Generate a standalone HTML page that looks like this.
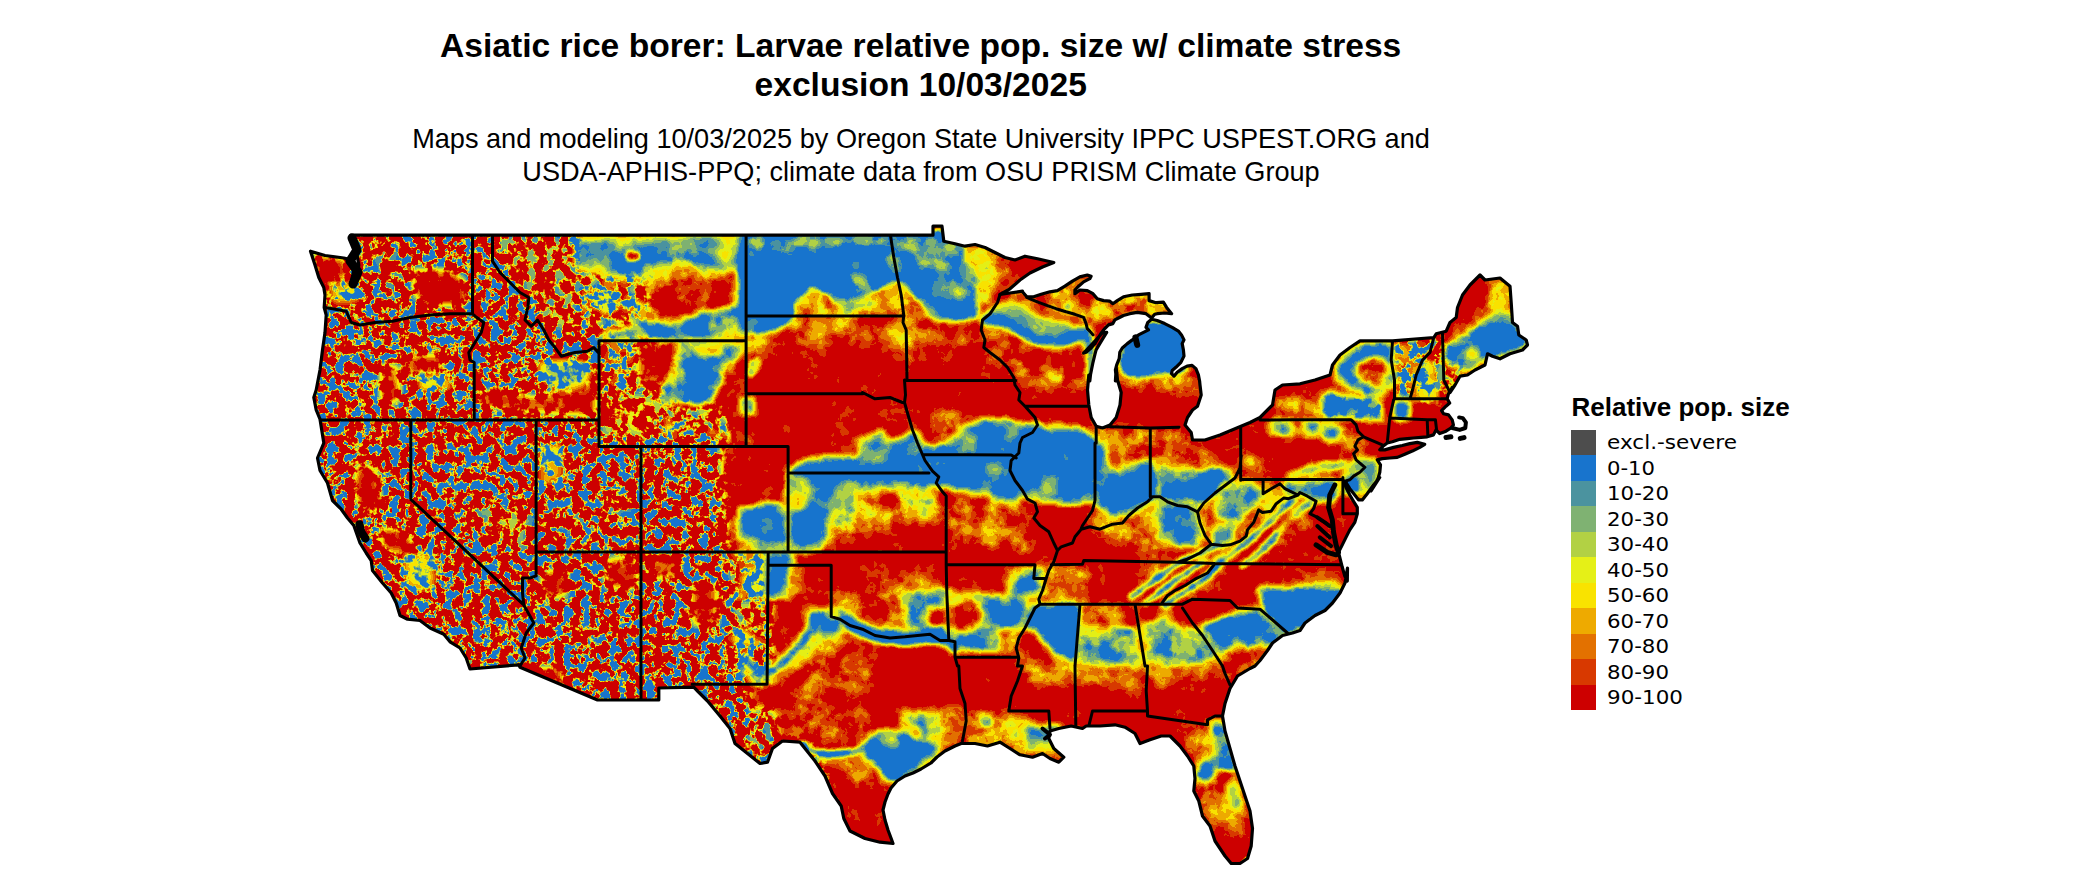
<!DOCTYPE html>
<html><head><meta charset="utf-8"><title>Asiatic rice borer</title>
<style>
html,body{margin:0;padding:0;background:#fff}
svg{display:block}
.t1{font:bold 33.6px "Liberation Sans",sans-serif;text-anchor:middle}
.t2{font:27.13px "Liberation Sans",sans-serif;text-anchor:middle}
.lt{font:bold 26px "Liberation Sans",sans-serif}
.ll{font:20.2px "DejaVu Sans",sans-serif}
</style></head><body>
<svg width="2100" height="892" viewBox="0 0 2100 892">
<defs>
<clipPath id="land"><path d="M350.8 235.2 L933 235.2 L933 226.2 L942 226.2 L943.8 241.2 L955 243.8 L965 246.2 L975 244.5 L985 247.5 L995 252.5 L1005 257.5 L1015 260 L1025 256.2 L1037.5 258.8 L1053.8 262.5 L1042.5 267 L1030 273 L1020 280 L1010 288.8 L1000 294.5 L1010 293 L1022.5 291.2 L1023.1 292.5 L1026.8 296.8 L1033.7 296.8 L1041.2 294.3 L1049.9 291.8 L1057.4 290.6 L1064.9 286.2 L1072.4 281.2 L1079.9 276.9 L1087.3 275 L1091.1 276.2 L1089.8 278.7 L1083.6 281.9 L1078.6 286.2 L1074.9 290 L1074.9 293.7 L1079.9 290 L1087.3 290.6 L1093 293.7 L1097.3 298.7 L1103.6 300.6 L1109.8 301.2 L1112.9 303.7 L1117.3 300.6 L1123.5 296.8 L1132.3 295 L1141 294.3 L1149.1 293.7 L1149.1 300.6 L1156 302.7 L1163.4 302.2 L1166.6 307.4 L1171.6 313.7 L1164.7 313 L1157.2 313.7 L1154.7 314.3 L1151.6 318 L1146 313.7 L1137.2 312.4 L1129.8 313.7 L1123.5 315.5 L1118.5 318 L1114.8 319.9 L1112.9 323.6 L1108.5 324.9 L1104.8 328.6 L1101.7 332.4 L1098.6 337.4 L1094.8 343.6 L1090.5 348.6 L1086.1 352.3 L1083.6 353 L1089.8 346.7 L1096.1 339.9 L1102.3 333 L1106.7 332.4 L1103.6 337.4 L1099.8 343.6 L1096.1 349.9 L1094.8 354.8 L1093 362.3 L1091.7 368.6 L1090.5 374.8 L1089.8 381 L1088.8 375 L1087.5 390 L1088.8 405 L1091.2 417.5 L1096.2 426.2 L1102.5 428 L1110 425 L1116.2 417.5 L1120 405 L1121.2 392.5 L1117.5 380 L1116.2 367.5 L1115.4 381 L1116 376.1 L1115.4 369.8 L1116.7 364.8 L1119.2 358.6 L1119.8 352.3 L1122.3 348 L1127.3 343.6 L1132.3 339.9 L1138.5 334.9 L1143.5 332.4 L1148.5 329.9 L1146 327.4 L1147.8 322.4 L1151.6 319.3 L1157.2 320.5 L1164.7 323.6 L1172.2 327.4 L1178.4 331.1 L1181.5 334.9 L1184 339.9 L1182.2 343.6 L1183.4 349.9 L1184 356.1 L1180.9 362.3 L1175.9 367.3 L1172.2 370.4 L1171.6 373.6 L1174 376.1 L1177.2 372.3 L1182.2 368.6 L1187.1 366.1 L1192.1 365.4 L1195.9 368.6 L1198.4 374.8 L1199.6 381 L1200 385 L1201.2 395 L1197.5 406.2 L1192.5 410 L1187.5 417.5 L1185 425 L1191.2 432.5 L1192.5 440 L1205 440 L1220 435 L1235 428.8 L1250 422.5 L1260 417.5 L1272.5 405 L1275 390 L1282.5 385 L1300 383.8 L1315 380 L1330 375 L1332.5 365 L1340 355 L1350 347.5 L1360 340.8 L1392.5 340.8 L1433.8 337.5 L1436.2 333.8 L1446.2 331.2 L1450 322.5 L1456.2 317.5 L1457.5 307.5 L1462.5 295 L1470 285 L1480 275 L1485 280 L1500 278 L1510 286.2 L1511.2 302.5 L1512.5 322.5 L1517.5 326.2 L1518.8 335 L1526.2 340 L1527.5 345 L1522.5 350 L1510 353.8 L1500 358.8 L1492.5 356.2 L1487.5 353.8 L1485 365 L1475 370 L1467.5 375 L1460 376.2 L1455 385 L1450 392.5 L1452.2 387.5 L1448.5 393.7 L1447.2 398.7 L1449.7 403.1 L1446 406.2 L1441.6 410.6 L1443.5 413.7 L1448.5 414.9 L1452.2 419.9 L1453.4 424.9 L1450.9 428 L1446 431.2 L1439.7 433.6 L1436 429.9 L1433.5 434.9 L1427.2 436.8 L1421 437.4 L1413.5 438 L1407.3 438.6 L1399.8 439.3 L1392.3 441.8 L1387.3 443 L1383 446.1 L1379.8 449.9 L1384.8 449.9 L1393.6 447.4 L1402.3 445.5 L1409.8 443.6 L1417.3 442.4 L1424.7 444.3 L1419.8 447.4 L1412.3 451.1 L1404.8 454.2 L1397.3 457.4 L1389.8 458 L1382.3 458.6 L1377.3 459.9 L1380.5 464.8 L1379.8 472.3 L1378 478.6 L1374.8 484.8 L1371.1 491 L1379.7 477.5 L1373.5 485 L1367.2 493.7 L1362.3 499.9 L1358.5 499.9 L1354.8 495 L1349.8 488.7 L1346 482.5 L1344.2 481.2 L1346 487.5 L1349.8 495 L1353.5 501.2 L1357.3 507.4 L1357.3 513.7 L1354.8 522.4 L1349.8 529.9 L1346 537.4 L1342.3 544.9 L1338.5 552.3 L1339.8 557.3 L1342.3 567.3 L1344.8 576.1 L1347.3 581 L1347.5 568 L1345 583 L1340 593 L1332.5 603 L1325 610.5 L1315 615.5 L1305 623 L1300 630.5 L1292.5 633 L1282.5 635.5 L1272.5 643 L1267.5 650.5 L1260 660.5 L1255 666 L1250 668.5 L1237.5 676 L1230 688.5 L1225 703.5 L1222.5 716 L1225 731 L1230 748.5 L1235 766 L1240 781 L1245 796 L1250 811 L1252.5 828.5 L1251.2 846 L1247.5 858.5 L1240 863.5 L1231.2 863.5 L1225 856 L1215 841 L1210 826 L1202.5 816 L1198.8 801 L1193.8 791 L1195 778.5 L1193.8 766 L1187.5 756 L1180 746 L1170 736 L1161.2 736 L1150 739.8 L1140 743.5 L1135 733.5 L1125 727.2 L1115 724.8 L1100 726 L1086.2 726 L1082.5 728.5 L1071.2 726 L1058.8 728.5 L1050 731 L1048.8 738.5 L1053.8 748.5 L1063.8 757.2 L1058.8 762.2 L1050 758.5 L1042.5 753.5 L1032.5 757.2 L1020 754.8 L1010 748.5 L1000 742.2 L987.5 746 L975 743.5 L961.2 743.5 L955 746 L945 751 L937 757 L931 763 L921 769 L913 773 L905 776 L897 781 L891 788 L888 794 L885 802 L883 810 L885 820 L888 830 L891 838 L893 843.5 L880 842.2 L865 838.5 L850 831 L843.8 818.5 L841.2 806 L832.5 793.5 L825 776 L815 761 L800 742.2 L782.5 741 L772.5 748.5 L767.5 762.2 L760 763.5 L747.5 753.5 L735 743.5 L730 728.5 L720 716 L707.5 701 L697.5 691 L693.8 687.2 L658.8 688 L658.8 700 L597.5 700 L520 667.2 L518.8 664.8 L470 669 L466.2 658 L460 648 L450 641.8 L443.8 634.2 L430 628 L420 620.5 L407.5 619.2 L400 615.5 L396.2 603 L391.2 593 L382.5 583 L372.5 570.5 L371.2 560.5 L366.2 553 L360 543 L353.8 525.5 L347.5 518 L341.2 509.2 L332.5 500.5 L327.5 483 L320 470.5 L317.5 458 L323.8 443 L320 419.2 L316.2 410 L313.8 397.5 L316.2 390 L320 370 L322.5 350 L325 332.5 L326.2 315 L324.2 307.5 L325 295 L323.8 287.5 L318.8 277.5 L315 265 L310.5 251.2 L325 255.5 L343.8 258 L352.5 260 L353.8 270 L351.2 282.5 L356.2 280 L358.8 265 L356.2 250 L353.8 240Z"/></clipPath>
<filter id="b2" x="-60%" y="-60%" width="220%" height="220%" color-interpolation-filters="sRGB"><feGaussianBlur stdDeviation="2"/></filter><filter id="b3" x="-60%" y="-60%" width="220%" height="220%" color-interpolation-filters="sRGB"><feGaussianBlur stdDeviation="3"/></filter><filter id="b4" x="-60%" y="-60%" width="220%" height="220%" color-interpolation-filters="sRGB"><feGaussianBlur stdDeviation="4"/></filter><filter id="b5" x="-60%" y="-60%" width="220%" height="220%" color-interpolation-filters="sRGB"><feGaussianBlur stdDeviation="5"/></filter><filter id="b6" x="-60%" y="-60%" width="220%" height="220%" color-interpolation-filters="sRGB"><feGaussianBlur stdDeviation="6"/></filter><filter id="b7" x="-60%" y="-60%" width="220%" height="220%" color-interpolation-filters="sRGB"><feGaussianBlur stdDeviation="7"/></filter><filter id="b8" x="-60%" y="-60%" width="220%" height="220%" color-interpolation-filters="sRGB"><feGaussianBlur stdDeviation="8"/></filter><filter id="b12" x="-60%" y="-60%" width="220%" height="220%" color-interpolation-filters="sRGB"><feGaussianBlur stdDeviation="12"/></filter><filter id="b16" x="-60%" y="-60%" width="220%" height="220%" color-interpolation-filters="sRGB"><feGaussianBlur stdDeviation="16"/></filter><filter id="fld" filterUnits="userSpaceOnUse" x="300" y="215" width="1240" height="677" color-interpolation-filters="sRGB">
<feGaussianBlur in="SourceGraphic" stdDeviation="1.2" result="bl"/>
<feTurbulence type="fractalNoise" baseFrequency="0.11" numOctaves="3" seed="3" result="t1"/>
<feColorMatrix in="t1" type="matrix" values="0 0 0 0 1  5.5 0 0 0 -2.45  0 0 0 0 0  0 0 0 0 1" result="n1"/>
<feTurbulence type="fractalNoise" baseFrequency="0.035" numOctaves="3" seed="11" result="t2"/>
<feColorMatrix in="t2" type="matrix" values="0 0 0 0 0  0 0 0 0 0  2.2 0 0 0 -0.6  0 0 0 0 1" result="n2"/>
<feComposite in="n1" in2="n2" operator="arithmetic" k1="0" k2="1" k3="1" k4="0" result="nz"/>
<feBlend in="nz" in2="bl" mode="multiply" result="m"/>
<feColorMatrix in="m" type="matrix" values="1 1 1 0 0  1 1 1 0 0  1 1 1 0 0  0 0 0 0 1" result="f"/>
<feComponentTransfer in="f"><feFuncR type="discrete" tableValues="0.804 0.804 0.804 0.804 0.804 0.804 0.804 0.804 0.804 0.804 0.804 0.804 0.804 0.847 0.847 0.847 0.890 0.890 0.890 0.933 0.933 0.933 0.976 0.976 0.976 0.898 0.898 0.898 0.698 0.698 0.698 0.498 0.498 0.498 0.294 0.294 0.294 0.094 0.094 0.094 0.094 0.094 0.094 0.094 0.094 0.094 0.094 0.094 0.094 0.094"/><feFuncG type="discrete" tableValues="0.000 0.000 0.000 0.000 0.000 0.000 0.000 0.000 0.000 0.000 0.000 0.000 0.000 0.224 0.224 0.224 0.443 0.443 0.443 0.667 0.667 0.667 0.890 0.890 0.890 0.941 0.941 0.941 0.820 0.820 0.820 0.698 0.698 0.698 0.576 0.576 0.576 0.455 0.455 0.455 0.455 0.455 0.455 0.455 0.455 0.455 0.455 0.455 0.455 0.455"/><feFuncB type="discrete" tableValues="0.000 0.000 0.000 0.000 0.000 0.000 0.000 0.000 0.000 0.000 0.000 0.000 0.000 0.000 0.000 0.000 0.000 0.000 0.000 0.000 0.000 0.000 0.000 0.000 0.000 0.090 0.090 0.090 0.267 0.267 0.267 0.447 0.447 0.447 0.624 0.624 0.624 0.804 0.804 0.804 0.804 0.804 0.804 0.804 0.804 0.804 0.804 0.804 0.804 0.804"/></feComponentTransfer>
</filter>
</defs>
<rect width="2100" height="892" fill="#fff"/>
<text x="920.7" y="57" class="t1">Asiatic rice borer: Larvae relative pop. size w/ climate stress</text>
<text x="920.7" y="96.2" class="t1">exclusion 10/03/2025</text>
<text x="921" y="147.5" class="t2">Maps and modeling 10/03/2025 by Oregon State University IPPC USPEST.ORG and</text>
<text x="921" y="180.7" class="t2">USDA-APHIS-PPQ; climate data from OSU PRISM Climate Group</text>
<g clip-path="url(#land)">
<rect x="300" y="215" width="1240" height="677" fill="#CD0000"/>
<g filter="url(#fld)"><rect x="280" y="200" width="1280" height="700" fill="#200d1a"/><path d="M290 215 L580 215 L600 300 L660 345 L700 400 L724 445 L726 560 L770 560 L770 690 L800 720 L835 800 L290 800Z" fill="#00d91f" filter="url(#b6)"/><path d="M311.9 251.2 L347.6 258.3 L347.6 279.8 L331 303.6 L323.8 303.6 L314.3 272.6Z" fill="#11261f" filter="url(#b5)"/><path d="M331 282.1 L361.9 279.8 L361.9 303.6 L331 303.6Z" fill="#617326" filter="url(#b5)"/><path d="M409.5 267.9 L452.4 267.9 L466.7 279.8 L466.7 306 L433.3 306 L411.9 296.4Z" fill="#1a141f" filter="url(#b5)"/><path d="M354.8 236.9 L409.5 236.9 L409.5 306 L361.9 306Z" fill="#00b21f" filter="url(#b5)"/><path d="M366.7 363.1 L400 363.1 L400 406 L371.4 406Z" fill="#1c1f1f" filter="url(#b5)"/><path d="M404.8 353.6 L442.9 353.6 L442.9 372.6 L407.1 377.4Z" fill="#1c1f1f" filter="url(#b5)"/><path d="M416.7 375 L452.4 375 L452.4 391.7 L419 391.7Z" fill="#707326" filter="url(#b5)"/><path d="M347.6 320.2 L378.6 320.2 L378.6 415.5 L347.6 415.5Z" fill="#16cc26" filter="url(#b5)"/><path d="M481 389.3 L514.3 391.7 L538.1 396.4 L561.9 386.9 L597.6 367.9 L597.6 415.5 L561.9 415.5 L514.3 413.1 L481 406Z" fill="#1f1a1f" filter="url(#b5)"/><path d="M538.1 363.1 L561.9 358.3 L590.5 363.1 L585.7 386.9 L557.1 389.3 L540.5 382.1Z" fill="#8b4c26" filter="url(#b5)"/><path d="M495.2 236.9 L573.8 236.9 L578.6 272.6 L585.7 296.4 L573.8 339.3 L538.1 320.2 L528.6 291.7 L502.4 272.6Z" fill="#00991f" filter="url(#b5)"/><path d="M581 272.6 L652.4 272.6 L652.4 334.5 L600 339.3 L581 320.2Z" fill="#008080" filter="url(#b5)"/><path d="M573.8 235.7 L747.6 235.7 L747.6 258.3 L704.8 275 L609.5 275 L576.2 272.6Z" fill="#8b084c" filter="url(#b5)"/><path d="M609.5 251.2 L657.1 248.8 L704.8 251.2 L704.8 270.2 L645.2 272.6 L609.5 270.2Z" fill="#ab144c" filter="url(#b3)"/><path d="M626.2 251.2 L640.5 251.2 L640.5 260.7 L626.2 260.7Z" fill="#171a1f" filter="url(#b2)"/><path d="M640.5 265.5 L671.4 260.7 L692.9 258.3 L716.7 272.6 L740.5 279.8 L742.9 296.4 L728.6 306 L704.8 315.5 L681 320.2 L657.1 325 L642.9 315.5 L652.4 296.4 L638.1 282.1Z" fill="#421440" filter="url(#b5)"/><path d="M657.1 272.6 L716.7 276.2 L731 291.7 L731 308.3 L681 319 L652.4 316.7 L657.1 294Z" fill="#281440" filter="url(#b5)"/><path d="M661.9 286.9 L728.6 284.5 L734.5 303.6 L723.8 316.7 L681 319 L658.3 314.3Z" fill="#111440" filter="url(#b5)"/><path d="M633.3 325 L681 322.6 L728.6 308.3 L747.6 303.6 L747.6 339.3 L600 339.3 L633.3 325" fill="none" stroke="#5c1433" stroke-width="8" stroke-linecap="round" stroke-linejoin="round" filter="url(#b3)"/><path d="M633.3 325 L681 322.6 L728.6 308.3 L747.6 303.6 L747.6 339.3 L600 339.3Z" fill="#871466" filter="url(#b3)"/><path d="M723.8 239.3 L747.6 239.3 L747.6 272.6 L719 272.6Z" fill="#65084c" filter="url(#b3)"/><path d="M600 341.7 L657.1 341.7 L657.1 391.7 L600 391.7Z" fill="#14994c" filter="url(#b5)"/><path d="M638.1 344 L681 344 L681 386.9 L638.1 386.9Z" fill="#1c1a1f" filter="url(#b5)"/><path d="M681 341.7 L747.6 341.7 L728.6 367.9 L704.8 406 L657.1 406 L671.4 379.8 L681 341.7" fill="none" stroke="#5c1433" stroke-width="8" stroke-linecap="round" stroke-linejoin="round" filter="url(#b3)"/><path d="M681 341.7 L747.6 341.7 L728.6 367.9 L704.8 406 L657.1 406 L671.4 379.8Z" fill="#811473" filter="url(#b3)"/><path d="M690.5 341.7 L719 341.7 L719 358.3 L690.5 358.3Z" fill="#331440" filter="url(#b4)"/><path d="M600 391.7 L657.1 391.7 L657.1 438.1 L600 438.1Z" fill="#03801f" filter="url(#b5)"/><path d="M657.1 406 L728.6 406 L728.6 438.1 L657.1 438.1Z" fill="#0d8066" filter="url(#b5)"/><path d="M723.8 367.9 L747.6 367.9 L747.6 438.1 L726.2 415.5Z" fill="#1c1a1f" filter="url(#b5)"/><path d="M354.8 460.8 L378.6 468 L383.3 508.4 L366.7 515.6 L354.8 496.5Z" fill="#1a141f" filter="url(#b5)"/><path d="M378.6 525.1 L404.8 529.9 L419 548.9 L400 556 L381 548.9Z" fill="#1a141f" filter="url(#b5)"/><path d="M400 553.7 L433.3 551.3 L435.7 591.8 L411.9 591.8 L402.4 575.1Z" fill="#6c4c26" filter="url(#b5)"/><path d="M419 460.8 L514.3 460.8 L514.3 508.4 L466.7 508.4 L423.8 494.1Z" fill="#16cc26" filter="url(#b5)"/><path d="M466.7 506 L535.7 503.7 L535.7 551.3 L502.4 551.3Z" fill="#00991f" filter="url(#b5)"/><path d="M538.1 444.1 L564.3 444.1 L564.3 484.6 L538.1 484.6Z" fill="#697326" filter="url(#b5)"/><path d="M538.1 498.9 L638.1 496.5 L638.1 548.9 L538.1 548.9Z" fill="#00b21f" filter="url(#b5)"/><path d="M721.4 446.5 L788.1 446.5 L788.1 498.9 L752.4 503.7 L723.8 494.1Z" fill="#171a1f" filter="url(#b6)"/><path d="M747.6 513.2 L766.7 508.4 L790.5 508.4 L790.5 548.9 L752.4 548.9 L742.9 532.2 L747.6 513.2" fill="none" stroke="#5c1433" stroke-width="10" stroke-linecap="round" stroke-linejoin="round" filter="url(#b3)"/><path d="M747.6 513.2 L766.7 508.4 L790.5 508.4 L790.5 548.9 L752.4 548.9 L742.9 532.2Z" fill="#ab144c" filter="url(#b3)"/><path d="M540.5 570.3 L569 570.3 L569 598.9 L540.5 598.9Z" fill="#1c1f1f" filter="url(#b5)"/><path d="M604.8 556 L638.1 556 L638.1 589.4 L604.8 589.4Z" fill="#1c1f1f" filter="url(#b5)"/><path d="M520 666 L565 666 L565 691 L525 671Z" fill="#1a141f" filter="url(#b5)"/><path d="M647.6 556 L681 556 L681 579.9 L647.6 579.9Z" fill="#1c1f1f" filter="url(#b5)"/><path d="M690.5 584.6 L719 584.6 L719 627.5 L690.5 627.5Z" fill="#1c1f1f" filter="url(#b5)"/><path d="M728.6 553.7 L766.7 553.7 L766.7 650.1 L728.6 650.1Z" fill="#1c8066" filter="url(#b5)"/><path d="M745 681 L825 676 L825 741 L775 741 L750 716Z" fill="#1c1a1f" filter="url(#b5)"/><path d="M739 313 L785 317 L829 317 L873 317 L903 321 L911 333 L925 327 L945 325 L981 323 L981 341 L945 341 L925 345 L921 369 L909 369 L903 349 L885 345 L857 341 L825 341 L785 345 L757 351 L739 353Z" fill="#30144c" filter="url(#b8)"/><path d="M739 231 L963 231 L963 247 L969 253 L965 259 L973 267 L979 277 L977 287 L975 297 L977 305 L979 317 L965 320 L945 321 L935 319 L925 313 L921 305 L911 295 L903 283 L893 284 L881 289 L873 293 L865 295 L857 297 L849 303 L839 306 L833 303 L829 297 L819 293 L812 284 L805 295 L797 303 L793 316 L789 321 L779 327 L765 332.6 L739 331Z" fill="#cc1438" filter="url(#b3)"/><path d="M795 235 L963 235 L963 247 L955 255 L941 259 L925 257 L911 253 L897 249 L885 247 L865 248 L845 246 L825 248 L805 247 L795 249Z" fill="#7b1438" filter="url(#b4)"/><path d="M911 255 L945 257 L953 269 L945 277 L929 273 L915 267Z" fill="#7b1438" filter="url(#b4)"/><path d="M747 235 L795 235 L797 249 L791 257 L775 255 L763 251 L749 255Z" fill="#521466" filter="url(#b4)"/><path d="M847 259 L861 260 L863 271 L849 271Z" fill="#9f0814" filter="url(#b3)"/><path d="M849 275 L863 276 L873 287 L873 297 L857 297 L851 285Z" fill="#871438" filter="url(#b3)"/><path d="M835 297 L857 297 L857 315 L835 315Z" fill="#7f1438" filter="url(#b4)"/><path d="M883 255 L899 255 L905 267 L897 279 L885 265Z" fill="#7f1438" filter="url(#b3)"/><path d="M945 285 L975 287 L977 305 L965 317 L953 303 L941 297Z" fill="#771459" filter="url(#b4)"/><path d="M925 277 L945 273 L957 285 L953 301 L937 305 L925 295Z" fill="#9a0826" filter="url(#b5)"/><path d="M961 261 L975 269 L977 287 L965 283Z" fill="#8f0826" filter="url(#b4)"/><path d="M775 257 L805 255 L835 259 L833 275 L805 271 L777 275Z" fill="#a00826" filter="url(#b5)"/><path d="M911 283 L921 297 L925 311 L933 317 L945 319 L945 313 L933 307 L925 293 L917 281Z" fill="#8f0826" filter="url(#b4)"/><path d="M795 303 L805 295 L812 284 L819 293 L829 297 L833 305 L831 315.4 L795 315.4Z" fill="#411459" filter="url(#b3)"/><path d="M857 297 L873 294 L883 297 L883 315.4 L857 315.4Z" fill="#521438" filter="url(#b3)"/><path d="M881 289.4 L893 284 L903 283.4 L911 295 L921 305 L925 315 L917 325 L905 323 L903 315.4 L883 315.4Z" fill="#331438" filter="url(#b3)"/><path d="M739 317 L777 317 L775 325 L765 330 L739 331Z" fill="#b51438" filter="url(#b3)"/><path d="M831 317 L857 317 L857 331 L845 335 L833 331Z" fill="#591438" filter="url(#b4)"/><path d="M963 247 L985 249 L995 261 L997 277 L995 293 L991 303 L977 305 L975 297 L977 287 L979 277 L973 267 L965 259 L969 253Z" fill="#591438" filter="url(#b3)"/><path d="M981 251 L1005 255 L1013 265 L1005 277 L997 287 L995 277 L994 261Z" fill="#3b1438" filter="url(#b4)"/><path d="M983 315 L995 303 L1011 300 L1025 306 L1039 314 L1053 318 L1065 320 L1075 326 L1087 325 L1089 349 L1081 341 L1069 345 L1057 348 L1045 349 L1033 346 L1021 339 L1009 331 L997 327 L985 325Z" fill="#8a0826" filter="url(#b3)"/><path d="M1023 301 L1041 307 L1057 314 L1073 317 L1085 321" fill="none" stroke="#660d26" stroke-width="5" stroke-linecap="round" stroke-linejoin="round" filter="url(#b3)"/><path d="M985 320 L997 319 L1009 324 L1021 332 L1033 339 L1045 342.6 L1057 342 L1069 339 L1081 334 L1088 331 L1090 349 L1092 377" fill="none" stroke="#cc1438" stroke-width="8" stroke-linecap="round" stroke-linejoin="round" filter="url(#b3)"/><path d="M984 325 L997 329 L1009 335 L1021 343 L1033 350 L1045 353 L1057 352 L1069 349 L1083 349 L1085 385 L1069 385 L1045 381 L1025 377 L1005 365 L989 349Z" fill="#1a1473" filter="url(#b8)"/><path d="M993 293 L1025 287 L1075 273 L1097 287 L1165 289 L1165 317 L1125 313 L1101 317 L1085 321 L1045 305 L1021 297Z" fill="#2a1473" filter="url(#b4)"/><path d="M1075 291 L1097 291 L1099 305 L1077 305Z" fill="#0d1438" filter="url(#b4)"/><path d="M1117 357 L1185 357 L1185 389 L1145 389 L1125 385 L1117 377Z" fill="#38144c" filter="url(#b6)"/><path d="M1121 349 L1125 337 L1135 329 L1149 323 L1185 323 L1185 373 L1165 373 L1149 375 L1137 377 L1125 373 L1119 365Z" fill="#cc1438" filter="url(#b3)"/><path d="M855 385 L875 385 L875 395 L855 395Z" fill="#3b1438" filter="url(#b4)"/><path d="M741 397 L755 397 L757 415 L741 415Z" fill="#961438" filter="url(#b3)"/><path d="M749 361 L759 357 L761 369 L753 377 L747 375Z" fill="#871438" filter="url(#b2)"/><path d="M1477 321 L1489 313 L1513 313 L1513 277 L1493 277 L1485 289 L1477 305 L1461 313 L1459 333 L1445 345 L1445 357Z" fill="#281440" filter="url(#b6)"/><path d="M1489 287 L1509 283 L1511 313 L1489 313Z" fill="#351440" filter="url(#b5)"/><path d="M1445 349 L1455 345 L1465 337 L1477 327 L1489 319 L1501 317 L1511 319 L1514 325 L1519 333 L1525 337 L1526 345 L1517 350 L1505 354 L1495 357 L1489 354 L1483 359 L1473 365 L1465 369 L1455 367 L1447 365 L1445 357 L1445 349" fill="none" stroke="#5c1433" stroke-width="10" stroke-linecap="round" stroke-linejoin="round" filter="url(#b3)"/><path d="M1445 349 L1455 345 L1465 337 L1477 327 L1489 319 L1501 317 L1511 319 L1514 325 L1519 333 L1525 337 L1526 345 L1517 350 L1505 354 L1495 357 L1489 354 L1483 359 L1473 365 L1465 369 L1455 367 L1447 365 L1445 357Z" fill="#b6144c" filter="url(#b3)"/><path d="M1485 317 L1513 316 L1514 325 L1501 323 L1489 325Z" fill="#900814" filter="url(#b3)"/><path d="M1465 349 L1479 348 L1480 361 L1465 362Z" fill="#710833" filter="url(#b3)"/><path d="M1444 365 L1465 369 L1457 379 L1451 389 L1445 397Z" fill="#268033" filter="url(#b5)"/><path d="M1413 341 L1432 340 L1442 331 L1444 397 L1431 400 L1411 400 L1415 377 L1423 357 L1429 349Z" fill="#05b233" filter="url(#b5)"/><path d="M1414 367 L1431 365 L1433 397 L1412 398 L1414 367" fill="none" stroke="#5c1433" stroke-width="10" stroke-linecap="round" stroke-linejoin="round" filter="url(#b3)"/><path d="M1414 367 L1431 365 L1433 397 L1412 398Z" fill="#708038" filter="url(#b3)"/><path d="M1391 341 L1431 341 L1429 349 L1423 357 L1415 377 L1411 400 L1395 400 L1392 377Z" fill="#409933" filter="url(#b5)"/><path d="M1331 365 L1339 357 L1345 350 L1357 342 L1365 340 L1391 340 L1393 377 L1394 393 L1365 395 L1351 389 L1337 385 L1331 377Z" fill="#50141a" filter="url(#b3)"/><path d="M1339 367 L1345 359 L1355 351 L1367 346 L1381 345 L1390 349 L1392 377 L1391 393 L1377 397 L1363 393 L1351 385 L1341 377 L1339 367" fill="none" stroke="#5c1433" stroke-width="10" stroke-linecap="round" stroke-linejoin="round" filter="url(#b3)"/><path d="M1339 367 L1345 359 L1355 351 L1367 346 L1381 345 L1390 349 L1392 377 L1391 393 L1377 397 L1363 393 L1351 385 L1341 377Z" fill="#b6144c" filter="url(#b3)"/><path d="M1353 367 L1361 359 L1373 355 L1383 357 L1387 369 L1385 381 L1377 387 L1365 385 L1355 377Z" fill="#1f1447" filter="url(#b4)"/><path d="M1325 397 L1339 395 L1355 397 L1365 401 L1377 399 L1383 407 L1381 417 L1325 417 L1325 397" fill="none" stroke="#5c1433" stroke-width="10" stroke-linecap="round" stroke-linejoin="round" filter="url(#b3)"/><path d="M1325 397 L1339 395 L1355 397 L1365 401 L1377 399 L1383 407 L1381 417 L1325 417Z" fill="#8d4c66" filter="url(#b3)"/><path d="M1277 397 L1305 395 L1317 401 L1321 417 L1273 417Z" fill="#441447" filter="url(#b5)"/><path d="M1385 389 L1395 389 L1395 417 L1384 417Z" fill="#090d1a" filter="url(#b4)"/><path d="M1397 403 L1407 403 L1407 417 L1397 417 L1397 403" fill="none" stroke="#5c1433" stroke-width="10" stroke-linecap="round" stroke-linejoin="round" filter="url(#b3)"/><path d="M1397 403 L1407 403 L1407 417 L1397 417Z" fill="#b6144c" filter="url(#b3)"/><path d="M1181 373 L1199 375 L1200 397 L1185 397Z" fill="#331440" filter="url(#b5)"/><path d="M825 481 L945 481 L945 519 L925 523 L897 529 L865 533 L841 543 L825 547Z" fill="#311447" filter="url(#b6)"/><path d="M831 485 L937 485 L937 511 L917 515 L893 519 L865 523 L841 531 L831 535Z" fill="#4f1a47" filter="url(#b5)"/><path d="M861 491 L895 491 L897 505 L865 507Z" fill="#131440" filter="url(#b5)"/><path d="M945 487 L1033 495 L1041 519 L1045 543 L1025 555 L985 555 L955 551 L945 535Z" fill="#1c1447" filter="url(#b8)"/><path d="M975 511 L1005 503 L1033 511 L1035 543 L1005 551 L981 543Z" fill="#261447" filter="url(#b6)"/><path d="M1033 501 L1093 499 L1085 527 L1065 555 L1045 543 L1037 519Z" fill="#090d1a" filter="url(#b6)"/><path d="M1085 509 L1105 511 L1125 515 L1145 507 L1165 501 L1165 555 L1125 555 L1095 535Z" fill="#2a1447" filter="url(#b6)"/><path d="M933 413 L965 413 L981 427 L977 451 L945 449 L935 435Z" fill="#2a1447" filter="url(#b5)"/><path d="M1095 425 L1153 425 L1165 435 L1165 471 L1105 467 L1095 447Z" fill="#241447" filter="url(#b6)"/><path d="M1037 415 L1093 415 L1093 433 L1037 433Z" fill="#1f1447" filter="url(#b6)"/><path d="M790 474 L797 469 L809 463 L825 459 L841 461 L857 461 L865 455 L861 443 L869 437 L881 435 L889 445 L901 443 L911 437 L917 433 L921 445 L933 451 L945 447 L957 439 L961 429 L975 427 L985 423 L997 425 L1005 421 L1017 425 L1029 427 L1035 423 L1041 431 L1053 429 L1065 431 L1077 429 L1085 437 L1093 441 L1101 451 L1105 465 L1113 473 L1125 469 L1137 467 L1149 463 L1157 473 L1167 475 L1167 499 L1153 495 L1145 503 L1137 509 L1125 511 L1115 515 L1105 509 L1097 501 L1093 497 L1085 499 L1073 503 L1061 501 L1051 497 L1041 499 L1033 495 L1025 493 L1015 497 L1005 499 L995 493 L985 489 L975 491 L965 487 L955 489 L945 485 L937 481 L925 485 L913 485 L901 483 L885 484 L873 483 L861 485 L849 483 L841 489 L833 499 L829 511 L827 523 L825 535 L821 545 L813 549 L790 549 L790 474" fill="none" stroke="#5c1433" stroke-width="10" stroke-linecap="round" stroke-linejoin="round" filter="url(#b3)"/><path d="M790 474 L797 469 L809 463 L825 459 L841 461 L857 461 L865 455 L861 443 L869 437 L881 435 L889 445 L901 443 L911 437 L917 433 L921 445 L933 451 L945 447 L957 439 L961 429 L975 427 L985 423 L997 425 L1005 421 L1017 425 L1029 427 L1035 423 L1041 431 L1053 429 L1065 431 L1077 429 L1085 437 L1093 441 L1101 451 L1105 465 L1113 473 L1125 469 L1137 467 L1149 463 L1157 473 L1167 475 L1167 499 L1153 495 L1145 503 L1137 509 L1125 511 L1115 515 L1105 509 L1097 501 L1093 497 L1085 499 L1073 503 L1061 501 L1051 497 L1041 499 L1033 495 L1025 493 L1015 497 L1005 499 L995 493 L985 489 L975 491 L965 487 L955 489 L945 485 L937 481 L925 485 L913 485 L901 483 L885 484 L873 483 L861 485 L849 483 L841 489 L833 499 L829 511 L827 523 L825 535 L821 545 L813 549 L790 549Z" fill="#b6144c" filter="url(#b4)"/><path d="M833 483 L849 483 L849 505 L833 509Z" fill="#900814" filter="url(#b3)"/><path d="M1041 475 L1057 475 L1059 495 L1041 497Z" fill="#900814" filter="url(#b3)"/><path d="M983 461 L1001 461 L1001 475 L983 475Z" fill="#980814" filter="url(#b3)"/><path d="M865 455 L917 435 L925 455 L885 467 L857 465Z" fill="#980833" filter="url(#b3)"/><path d="M961 429 L1033 427 L1025 455 L965 453Z" fill="#93084c" filter="url(#b3)"/><path d="M791 475 L811 475 L811 499 L801 511 L791 511Z" fill="#65084c" filter="url(#b3)"/><path d="M741 511 L765 509 L785 511 L786 543 L765 543 L741 535 L741 511" fill="none" stroke="#5c1433" stroke-width="10" stroke-linecap="round" stroke-linejoin="round" filter="url(#b3)"/><path d="M741 511 L765 509 L785 511 L786 543 L765 543 L741 535Z" fill="#b6144c" filter="url(#b4)"/><path d="M769 553 L790 553 L790 567 L785 585 L789 595 L767 595 L769 553" fill="none" stroke="#5c1433" stroke-width="10" stroke-linecap="round" stroke-linejoin="round" filter="url(#b3)"/><path d="M769 553 L790 553 L790 567 L785 585 L789 595 L767 595Z" fill="#b6144c" filter="url(#b4)"/><path d="M790 565 L805 565 L805 595 L788 595Z" fill="#3d1440" filter="url(#b5)"/><path d="M875 571 L925 571 L935 595 L873 595Z" fill="#2a1447" filter="url(#b6)"/><path d="M1011 573 L1041 571 L1045 595 L1009 595 L1011 573" fill="none" stroke="#5c1433" stroke-width="10" stroke-linecap="round" stroke-linejoin="round" filter="url(#b3)"/><path d="M1011 573 L1041 571 L1045 595 L1009 595Z" fill="#8f1466" filter="url(#b5)"/><path d="M1053 567 L1085 567 L1085 595 L1045 595Z" fill="#391447" filter="url(#b5)"/><path d="M745 433 L757 433 L757 443 L745 443Z" fill="#331440" filter="url(#b4)"/><path d="M1161 431 L1195 433 L1205 455 L1235 461 L1239 481 L1165 511 L1161 511Z" fill="#2d1440" filter="url(#b6)"/><path d="M1161 467 L1177 475 L1189 468 L1201 473 L1213 468 L1225 473 L1235 479 L1231 487 L1221 493 L1213 499 L1205 505 L1195 509 L1185 505 L1173 507 L1161 503 L1161 467" fill="none" stroke="#5c1433" stroke-width="10" stroke-linecap="round" stroke-linejoin="round" filter="url(#b3)"/><path d="M1161 467 L1177 475 L1189 468 L1201 473 L1213 468 L1225 473 L1235 479 L1231 487 L1221 493 L1213 499 L1205 505 L1195 509 L1185 505 L1173 507 L1161 503Z" fill="#ab144c" filter="url(#b3)"/><path d="M1161 503 L1185 505 L1197 509 L1199 523 L1205 535 L1195 543 L1181 543 L1161 539 L1161 503" fill="none" stroke="#5c1433" stroke-width="10" stroke-linecap="round" stroke-linejoin="round" filter="url(#b3)"/><path d="M1161 503 L1185 505 L1197 509 L1199 523 L1205 535 L1195 543 L1181 543 L1161 539Z" fill="#951459" filter="url(#b3)"/><path d="M1197 509 L1213 499 L1223 481 L1261 481 L1277 487 L1305 485 L1293 505 L1269 527 L1249 543 L1225 547 L1205 535 L1199 523Z" fill="#331440" filter="url(#b5)"/><path d="M1221 495 L1233 485 L1249 483 L1259 491 L1253 503 L1241 515 L1229 523 L1219 519 L1215 507 L1221 495" fill="none" stroke="#5c1433" stroke-width="10" stroke-linecap="round" stroke-linejoin="round" filter="url(#b3)"/><path d="M1221 495 L1233 485 L1249 483 L1259 491 L1253 503 L1241 515 L1229 523 L1219 519 L1215 507Z" fill="#94144c" filter="url(#b3)"/><path d="M1215 527 L1231 527 L1231 543 L1215 543 L1215 527" fill="none" stroke="#5c1433" stroke-width="10" stroke-linecap="round" stroke-linejoin="round" filter="url(#b3)"/><path d="M1215 527 L1231 527 L1231 543 L1215 543Z" fill="#a61438" filter="url(#b3)"/><path d="M1225 559 L1251 539 L1273 519 L1293 499 L1305 485" fill="none" stroke="#b51438" stroke-width="5" stroke-linecap="round" stroke-linejoin="round" filter="url(#b2)"/><path d="M1265 547 L1285 527 L1303 509 L1319 495" fill="none" stroke="#b51438" stroke-width="7" stroke-linecap="round" stroke-linejoin="round" filter="url(#b2)"/><path d="M1241 567 L1259 553 L1277 535" fill="none" stroke="#a61438" stroke-width="5" stroke-linecap="round" stroke-linejoin="round" filter="url(#b2)"/><path d="M1285 511 L1305 509 L1309 527 L1293 543 L1277 543Z" fill="#381440" filter="url(#b5)"/><path d="M1285 483 L1335 482 L1333 499 L1317 499 L1305 493 L1289 495 L1285 483" fill="none" stroke="#5c1433" stroke-width="10" stroke-linecap="round" stroke-linejoin="round" filter="url(#b3)"/><path d="M1285 483 L1335 482 L1333 499 L1317 499 L1305 493 L1289 495Z" fill="#9c144c" filter="url(#b3)"/><path d="M1257 419 L1349 419 L1357 439 L1335 441 L1305 437 L1277 437 L1259 433Z" fill="#331440" filter="url(#b5)"/><path d="M1273 421 L1289 421 L1289 431 L1273 431 L1273 421" fill="none" stroke="#5c1433" stroke-width="10" stroke-linecap="round" stroke-linejoin="round" filter="url(#b3)"/><path d="M1273 421 L1289 421 L1289 431 L1273 431Z" fill="#a61438" filter="url(#b3)"/><path d="M1305 423 L1317 423 L1317 433 L1305 433 L1305 423" fill="none" stroke="#5c1433" stroke-width="10" stroke-linecap="round" stroke-linejoin="round" filter="url(#b3)"/><path d="M1305 423 L1317 423 L1317 433 L1305 433Z" fill="#a61438" filter="url(#b3)"/><path d="M1325 429 L1337 431 L1335 438 L1325 437 L1325 429" fill="none" stroke="#5c1433" stroke-width="10" stroke-linecap="round" stroke-linejoin="round" filter="url(#b3)"/><path d="M1325 429 L1337 431 L1335 438 L1325 437Z" fill="#a61438" filter="url(#b3)"/><path d="M1245 455 L1259 455 L1259 473 L1245 473Z" fill="#421440" filter="url(#b4)"/><path d="M1293 475 L1317 468 L1341 465 L1361 467" fill="none" stroke="#961438" stroke-width="8" stroke-linecap="round" stroke-linejoin="round" filter="url(#b3)"/><path d="M1341 435 L1365 435 L1365 455 L1341 455Z" fill="#331440" filter="url(#b5)"/><path d="M1345 475 L1357 455 L1377 459 L1379 481 L1367 499 L1349 495Z" fill="#880833" filter="url(#b3)"/><path d="M1345 475 L1357 473 L1361 491 L1351 495 L1345 491 L1345 475" fill="none" stroke="#5c1433" stroke-width="10" stroke-linecap="round" stroke-linejoin="round" filter="url(#b3)"/><path d="M1345 475 L1357 473 L1361 491 L1351 495 L1345 491Z" fill="#b6144c" filter="url(#b3)"/><path d="M1345 499 L1355 499 L1355 519 L1345 519Z" fill="#2d1440" filter="url(#b4)"/><path d="M1275 579 L1305 573 L1337 575 L1345 595 L1273 595Z" fill="#381440" filter="url(#b6)"/><path d="M1305 585 L1341 583 L1345 595 L1303 595Z" fill="#8a0840" filter="url(#b3)"/><path d="M801 633 L865 631 L955 641 L957 677 L925 659 L885 649 L857 669 L841 697 L845 729 L805 733 L793 705 L797 673Z" fill="#201440" filter="url(#b8)"/><path d="M831 669 L875 667 L877 689 L833 689Z" fill="#3d1440" filter="url(#b5)"/><path d="M881 645 L945 647 L957 681 L945 713 L885 713 L869 689Z" fill="#090d1a" filter="url(#b8)"/><path d="M833 591 L949 591 L949 633 L905 637 L865 627 L833 609Z" fill="#381440" filter="url(#b6)"/><path d="M857 591 L905 591 L901 615 L865 613Z" fill="#231440" filter="url(#b5)"/><path d="M905 593 L949 593 L949 633 L925 633 L909 623 L905 593" fill="none" stroke="#5c1433" stroke-width="10" stroke-linecap="round" stroke-linejoin="round" filter="url(#b3)"/><path d="M905 593 L949 593 L949 633 L925 633 L909 623Z" fill="#861459" filter="url(#b3)"/><path d="M929 609 L945 609 L945 625 L929 625Z" fill="#090d1a" filter="url(#b3)"/><path d="M835 614 L849 623 L865 631 L885 636.6 L905 640.6 L925 636.6 L945 636.6 L955 645" fill="none" stroke="#cc1438" stroke-width="13" stroke-linecap="round" stroke-linejoin="round" filter="url(#b3)"/><path d="M809 613 L825 611 L837 617 L839 631 L825 635 L811 631 L809 613" fill="none" stroke="#5c1433" stroke-width="10" stroke-linecap="round" stroke-linejoin="round" filter="url(#b3)"/><path d="M809 613 L825 611 L837 617 L839 631 L825 635 L811 631Z" fill="#b6144c" filter="url(#b3)"/><path d="M811 631 L799 647 L785 661 L771 673 L757 673 L745 659" fill="none" stroke="#b51438" stroke-width="10" stroke-linecap="round" stroke-linejoin="round" filter="url(#b3)"/><path d="M817 639 L805 655 L791 669 L775 681 L753 681 L743 669" fill="none" stroke="#611438" stroke-width="8" stroke-linecap="round" stroke-linejoin="round" filter="url(#b3)"/><path d="M743 709 L775 709 L777 763 L743 763Z" fill="#0a9933" filter="url(#b5)"/><path d="M951 597 L1025 599 L1021 623 L1013 645 L985 649 L961 645 L951 633 L951 597" fill="none" stroke="#5c1433" stroke-width="10" stroke-linecap="round" stroke-linejoin="round" filter="url(#b3)"/><path d="M951 597 L1025 599 L1021 623 L1013 645 L985 649 L961 645 L951 633Z" fill="#951459" filter="url(#b3)"/><path d="M951 597 L981 597 L981 633 L951 633Z" fill="#281440" filter="url(#b6)"/><path d="M999 627 L1017 627 L1015 653 L999 653Z" fill="#191440" filter="url(#b4)"/><path d="M967 715 L1005 715 L1057 721 L1061 761 L1005 753 L969 741Z" fill="#381440" filter="url(#b6)"/><path d="M981 716 L991 716 L991 725 L981 725 L981 716" fill="none" stroke="#5c1433" stroke-width="10" stroke-linecap="round" stroke-linejoin="round" filter="url(#b3)"/><path d="M981 716 L991 716 L991 725 L981 725Z" fill="#a61438" filter="url(#b2)"/><path d="M1021 649 L1081 653 L1081 689 L1045 689 L1021 673Z" fill="#2d1440" filter="url(#b7)"/><path d="M1033 605 L1079 605 L1077 659 L1057 653 L1045 643 L1037 629 L1025 627 L1033 605" fill="none" stroke="#5c1433" stroke-width="10" stroke-linecap="round" stroke-linejoin="round" filter="url(#b3)"/><path d="M1033 605 L1079 605 L1077 659 L1057 653 L1045 643 L1037 629 L1025 627Z" fill="#bd1438" filter="url(#b3)"/><path d="M1081 661 L1147 661 L1147 689 L1081 689Z" fill="#2d1440" filter="url(#b7)"/><path d="M1083 605 L1135 605 L1135 629 L1083 629Z" fill="#281440" filter="url(#b5)"/><path d="M1083 629 L1137 631 L1139 661 L1105 663 L1083 659 L1083 629" fill="none" stroke="#5c1433" stroke-width="10" stroke-linecap="round" stroke-linejoin="round" filter="url(#b3)"/><path d="M1083 629 L1137 631 L1139 661 L1105 663 L1083 659Z" fill="#951459" filter="url(#b3)"/><path d="M1121 605 L1137 605 L1143 653 L1131 653Z" fill="#090d1a" filter="url(#b4)"/><path d="M1143 605 L1167 605 L1167 659 L1145 659 L1143 605" fill="none" stroke="#5c1433" stroke-width="10" stroke-linecap="round" stroke-linejoin="round" filter="url(#b3)"/><path d="M1143 605 L1167 605 L1167 659 L1145 659Z" fill="#801466" filter="url(#b3)"/><path d="M1145 659 L1167 659 L1167 685 L1147 685Z" fill="#331440" filter="url(#b6)"/><path d="M1163 617 L1185 623 L1205 621 L1231 615 L1261 611 L1285 633 L1269 653 L1241 673 L1225 679 L1195 681 L1163 685Z" fill="#381440" filter="url(#b7)"/><path d="M1205 623 L1231 615 L1259 611 L1277 625 L1283 633 L1273 645 L1261 643 L1249 649 L1237 643 L1225 649 L1215 645 L1205 635 L1205 623" fill="none" stroke="#5c1433" stroke-width="10" stroke-linecap="round" stroke-linejoin="round" filter="url(#b3)"/><path d="M1205 623 L1231 615 L1259 611 L1277 625 L1283 633 L1273 645 L1261 643 L1249 649 L1237 643 L1225 649 L1215 645 L1205 635Z" fill="#ab144c" filter="url(#b3)"/><path d="M1261 589 L1345 589 L1331 609 L1315 615 L1301 629 L1285 634 L1277 623 L1265 607 L1261 589" fill="none" stroke="#5c1433" stroke-width="10" stroke-linecap="round" stroke-linejoin="round" filter="url(#b3)"/><path d="M1261 589 L1345 589 L1331 609 L1315 615 L1301 629 L1285 634 L1277 623 L1265 607Z" fill="#b6144c" filter="url(#b3)"/><path d="M1183 603 L1231 601 L1231 613 L1205 623 L1191 621Z" fill="#090d1a" filter="url(#b4)"/><path d="M1225 651 L1259 651 L1261 667 L1231 673Z" fill="#1e1440" filter="url(#b4)"/><path d="M1163 637 L1181 635 L1205 639 L1207 657 L1185 661 L1163 659 L1163 637" fill="none" stroke="#5c1433" stroke-width="10" stroke-linecap="round" stroke-linejoin="round" filter="url(#b3)"/><path d="M1163 637 L1181 635 L1205 639 L1207 657 L1185 661 L1163 659Z" fill="#951459" filter="url(#b3)"/><path d="M795 710 L869 710 L873 738 L857 742 L825 744 L797 736Z" fill="#2d1440" filter="url(#b6)"/><path d="M821 757 L873 757 L889 780 L885 790 L857 788 L849 770 L825 766Z" fill="#381440" filter="url(#b5)"/><path d="M897 710 L963 710 L963 738 L937 750 L905 738Z" fill="#471440" filter="url(#b6)"/><path d="M801 744 L813 751.4 L829 754.4 L845 753.4 L861 750.4 L870 746" fill="none" stroke="#bd1438" stroke-width="6" stroke-linecap="round" stroke-linejoin="round" filter="url(#b2)"/><path d="M865 746 L877 734 L889 732 L905 734 L917 740 L929 738 L937 746 L933 754 L925 762 L915 770 L903 774 L893 780 L885 780 L881 770 L875 762 L867 754 L865 746" fill="none" stroke="#5c1433" stroke-width="10" stroke-linecap="round" stroke-linejoin="round" filter="url(#b3)"/><path d="M865 746 L877 734 L889 732 L905 734 L917 740 L929 738 L937 746 L933 754 L925 762 L915 770 L903 774 L893 780 L885 780 L881 770 L875 762 L867 754Z" fill="#b6144c" filter="url(#b3)"/><path d="M877 736 L897 734 L905 746 L889 754 L877 748Z" fill="#820840" filter="url(#b3)"/><path d="M909 718 L937 716 L945 730 L925 736 L909 718" fill="none" stroke="#5c1433" stroke-width="10" stroke-linecap="round" stroke-linejoin="round" filter="url(#b3)"/><path d="M909 718 L937 716 L945 730 L925 736Z" fill="#801466" filter="url(#b3)"/><path d="M965 720 L1025 722 L1061 728 L1065 762 L1025 760 L995 748 L965 744Z" fill="#421440" filter="url(#b6)"/><path d="M1025 726 L1057 726 L1057 754 L1029 752Z" fill="#83084c" filter="url(#b3)"/><path d="M980 717 L991 717 L991 727 L980 727Z" fill="#a61438" filter="url(#b2)"/><path d="M1189 738 L1217 722 L1233 754 L1245 794 L1241 834 L1215 834 L1205 814 L1195 794 L1199 770Z" fill="#281440" filter="url(#b6)"/><path d="M1215 722 L1223 726 L1231 754 L1235 774 L1225 770 L1215 774 L1205 780 L1198 778 L1199 766 L1205 754 L1211 742 L1215 722" fill="none" stroke="#5c1433" stroke-width="10" stroke-linecap="round" stroke-linejoin="round" filter="url(#b3)"/><path d="M1215 722 L1223 726 L1231 754 L1235 774 L1225 770 L1215 774 L1205 780 L1198 778 L1199 766 L1205 754 L1211 742Z" fill="#9d1459" filter="url(#b3)"/><path d="M1191 738 L1213 736 L1213 758 L1195 760Z" fill="#471440" filter="url(#b4)"/><path d="M1223 778 L1239 778 L1242 808 L1231 808 L1225 794Z" fill="#810833" filter="url(#b3)"/><path d="M1213 770 L1231 770 L1231 782 L1213 782Z" fill="#1e1440" filter="url(#b3)"/><path d="M1215 878 L1225 875 L1237 870 L1247 858" fill="none" stroke="#a61438" stroke-width="2" stroke-linecap="round" stroke-linejoin="round"/><path d="M1130 568 L1185 560.5 L1225 543 L1230 560.5 L1215 583 L1185 603 L1160 618 L1135 605.5Z" fill="#2d1440" filter="url(#b6)"/><path d="M1131.2 596.8 L1150 584.2 L1170 569.2 L1187.5 559.2" fill="none" stroke="#bd1438" stroke-width="5" stroke-linecap="round" stroke-linejoin="round" filter="url(#b2)"/><path d="M1143.8 604.2 L1161.2 591 L1181.2 576 L1202.5 562.5" fill="none" stroke="#bd1438" stroke-width="5" stroke-linecap="round" stroke-linejoin="round" filter="url(#b2)"/><path d="M1162.5 605.5 L1182.5 593 L1205 578 L1222.5 560.5" fill="none" stroke="#bd1438" stroke-width="5" stroke-linecap="round" stroke-linejoin="round" filter="url(#b2)"/><path d="M1180 563 L1200 553 L1217.5 545.5" fill="none" stroke="#bd1438" stroke-width="5" stroke-linecap="round" stroke-linejoin="round" filter="url(#b2)"/><path d="M1137.5 601 L1155 588 L1175 573 L1195 560.5" fill="none" stroke="#1a080d" stroke-width="3" stroke-linecap="round" stroke-linejoin="round" filter="url(#b2)"/><path d="M1152.5 605.5 L1172.5 592 L1192.5 577.5 L1212.5 563" fill="none" stroke="#1a080d" stroke-width="3" stroke-linecap="round" stroke-linejoin="round" filter="url(#b2)"/><path d="M1050 568 L1085 568 L1085 603 L1045 603Z" fill="#491440" filter="url(#b5)"/><path d="M1137.5 605.5 L1160 605.5 L1160 623 L1138.8 623Z" fill="#090d1a" filter="url(#b4)"/><path d="M1146.7 630.3 L1173.3 627 L1200 633.7 L1213.3 650.3 L1200 663.7 L1173.3 660.3 L1153.3 650.3 L1146.7 630.3" fill="none" stroke="#5c1433" stroke-width="8" stroke-linecap="round" stroke-linejoin="round" filter="url(#b3)"/><path d="M1146.7 630.3 L1173.3 627 L1200 633.7 L1213.3 650.3 L1200 663.7 L1173.3 660.3 L1153.3 650.3Z" fill="#8f1466" filter="url(#b3)"/><path d="M1086.7 633.7 L1133.3 630.3 L1140 657 L1113.3 663.7 L1086.7 657 L1086.7 633.7" fill="none" stroke="#5c1433" stroke-width="6" stroke-linecap="round" stroke-linejoin="round" filter="url(#b3)"/><path d="M1086.7 633.7 L1133.3 630.3 L1140 657 L1113.3 663.7 L1086.7 657Z" fill="#8f1466" filter="url(#b3)"/></g>
</g>
<g fill="none" stroke="#000" stroke-linejoin="round" stroke-linecap="round">
<path d="M350.8 235.2 L933 235.2 L933 226.2 L942 226.2 L943.8 241.2 L955 243.8 L965 246.2 L975 244.5 L985 247.5 L995 252.5 L1005 257.5 L1015 260 L1025 256.2 L1037.5 258.8 L1053.8 262.5 L1042.5 267 L1030 273 L1020 280 L1010 288.8 L1000 294.5 L1010 293 L1022.5 291.2 L1023.1 292.5 L1026.8 296.8 L1033.7 296.8 L1041.2 294.3 L1049.9 291.8 L1057.4 290.6 L1064.9 286.2 L1072.4 281.2 L1079.9 276.9 L1087.3 275 L1091.1 276.2 L1089.8 278.7 L1083.6 281.9 L1078.6 286.2 L1074.9 290 L1074.9 293.7 L1079.9 290 L1087.3 290.6 L1093 293.7 L1097.3 298.7 L1103.6 300.6 L1109.8 301.2 L1112.9 303.7 L1117.3 300.6 L1123.5 296.8 L1132.3 295 L1141 294.3 L1149.1 293.7 L1149.1 300.6 L1156 302.7 L1163.4 302.2 L1166.6 307.4 L1171.6 313.7 L1164.7 313 L1157.2 313.7 L1154.7 314.3 L1151.6 318 L1146 313.7 L1137.2 312.4 L1129.8 313.7 L1123.5 315.5 L1118.5 318 L1114.8 319.9 L1112.9 323.6 L1108.5 324.9 L1104.8 328.6 L1101.7 332.4 L1098.6 337.4 L1094.8 343.6 L1090.5 348.6 L1086.1 352.3 L1083.6 353 L1089.8 346.7 L1096.1 339.9 L1102.3 333 L1106.7 332.4 L1103.6 337.4 L1099.8 343.6 L1096.1 349.9 L1094.8 354.8 L1093 362.3 L1091.7 368.6 L1090.5 374.8 L1089.8 381 L1088.8 375 L1087.5 390 L1088.8 405 L1091.2 417.5 L1096.2 426.2 L1102.5 428 L1110 425 L1116.2 417.5 L1120 405 L1121.2 392.5 L1117.5 380 L1116.2 367.5 L1115.4 381 L1116 376.1 L1115.4 369.8 L1116.7 364.8 L1119.2 358.6 L1119.8 352.3 L1122.3 348 L1127.3 343.6 L1132.3 339.9 L1138.5 334.9 L1143.5 332.4 L1148.5 329.9 L1146 327.4 L1147.8 322.4 L1151.6 319.3 L1157.2 320.5 L1164.7 323.6 L1172.2 327.4 L1178.4 331.1 L1181.5 334.9 L1184 339.9 L1182.2 343.6 L1183.4 349.9 L1184 356.1 L1180.9 362.3 L1175.9 367.3 L1172.2 370.4 L1171.6 373.6 L1174 376.1 L1177.2 372.3 L1182.2 368.6 L1187.1 366.1 L1192.1 365.4 L1195.9 368.6 L1198.4 374.8 L1199.6 381 L1200 385 L1201.2 395 L1197.5 406.2 L1192.5 410 L1187.5 417.5 L1185 425 L1191.2 432.5 L1192.5 440 L1205 440 L1220 435 L1235 428.8 L1250 422.5 L1260 417.5 L1272.5 405 L1275 390 L1282.5 385 L1300 383.8 L1315 380 L1330 375 L1332.5 365 L1340 355 L1350 347.5 L1360 340.8 L1392.5 340.8 L1433.8 337.5 L1436.2 333.8 L1446.2 331.2 L1450 322.5 L1456.2 317.5 L1457.5 307.5 L1462.5 295 L1470 285 L1480 275 L1485 280 L1500 278 L1510 286.2 L1511.2 302.5 L1512.5 322.5 L1517.5 326.2 L1518.8 335 L1526.2 340 L1527.5 345 L1522.5 350 L1510 353.8 L1500 358.8 L1492.5 356.2 L1487.5 353.8 L1485 365 L1475 370 L1467.5 375 L1460 376.2 L1455 385 L1450 392.5 L1452.2 387.5 L1448.5 393.7 L1447.2 398.7 L1449.7 403.1 L1446 406.2 L1441.6 410.6 L1443.5 413.7 L1448.5 414.9 L1452.2 419.9 L1453.4 424.9 L1450.9 428 L1446 431.2 L1439.7 433.6 L1436 429.9 L1433.5 434.9 L1427.2 436.8 L1421 437.4 L1413.5 438 L1407.3 438.6 L1399.8 439.3 L1392.3 441.8 L1387.3 443 L1383 446.1 L1379.8 449.9 L1384.8 449.9 L1393.6 447.4 L1402.3 445.5 L1409.8 443.6 L1417.3 442.4 L1424.7 444.3 L1419.8 447.4 L1412.3 451.1 L1404.8 454.2 L1397.3 457.4 L1389.8 458 L1382.3 458.6 L1377.3 459.9 L1380.5 464.8 L1379.8 472.3 L1378 478.6 L1374.8 484.8 L1371.1 491 L1379.7 477.5 L1373.5 485 L1367.2 493.7 L1362.3 499.9 L1358.5 499.9 L1354.8 495 L1349.8 488.7 L1346 482.5 L1344.2 481.2 L1346 487.5 L1349.8 495 L1353.5 501.2 L1357.3 507.4 L1357.3 513.7 L1354.8 522.4 L1349.8 529.9 L1346 537.4 L1342.3 544.9 L1338.5 552.3 L1339.8 557.3 L1342.3 567.3 L1344.8 576.1 L1347.3 581 L1347.5 568 L1345 583 L1340 593 L1332.5 603 L1325 610.5 L1315 615.5 L1305 623 L1300 630.5 L1292.5 633 L1282.5 635.5 L1272.5 643 L1267.5 650.5 L1260 660.5 L1255 666 L1250 668.5 L1237.5 676 L1230 688.5 L1225 703.5 L1222.5 716 L1225 731 L1230 748.5 L1235 766 L1240 781 L1245 796 L1250 811 L1252.5 828.5 L1251.2 846 L1247.5 858.5 L1240 863.5 L1231.2 863.5 L1225 856 L1215 841 L1210 826 L1202.5 816 L1198.8 801 L1193.8 791 L1195 778.5 L1193.8 766 L1187.5 756 L1180 746 L1170 736 L1161.2 736 L1150 739.8 L1140 743.5 L1135 733.5 L1125 727.2 L1115 724.8 L1100 726 L1086.2 726 L1082.5 728.5 L1071.2 726 L1058.8 728.5 L1050 731 L1048.8 738.5 L1053.8 748.5 L1063.8 757.2 L1058.8 762.2 L1050 758.5 L1042.5 753.5 L1032.5 757.2 L1020 754.8 L1010 748.5 L1000 742.2 L987.5 746 L975 743.5 L961.2 743.5 L955 746 L945 751 L937 757 L931 763 L921 769 L913 773 L905 776 L897 781 L891 788 L888 794 L885 802 L883 810 L885 820 L888 830 L891 838 L893 843.5 L880 842.2 L865 838.5 L850 831 L843.8 818.5 L841.2 806 L832.5 793.5 L825 776 L815 761 L800 742.2 L782.5 741 L772.5 748.5 L767.5 762.2 L760 763.5 L747.5 753.5 L735 743.5 L730 728.5 L720 716 L707.5 701 L697.5 691 L693.8 687.2 L658.8 688 L658.8 700 L597.5 700 L520 667.2 L518.8 664.8 L470 669 L466.2 658 L460 648 L450 641.8 L443.8 634.2 L430 628 L420 620.5 L407.5 619.2 L400 615.5 L396.2 603 L391.2 593 L382.5 583 L372.5 570.5 L371.2 560.5 L366.2 553 L360 543 L353.8 525.5 L347.5 518 L341.2 509.2 L332.5 500.5 L327.5 483 L320 470.5 L317.5 458 L323.8 443 L320 419.2 L316.2 410 L313.8 397.5 L316.2 390 L320 370 L322.5 350 L325 332.5 L326.2 315 L324.2 307.5 L325 295 L323.8 287.5 L318.8 277.5 L315 265 L310.5 251.2 L325 255.5 L343.8 258 L352.5 260 L353.8 270 L351.2 282.5 L356.2 280 L358.8 265 L356.2 250 L353.8 240Z" stroke-width="3.2"/>
<path d="M325 307.5 L332.5 308.8 L346.2 311.2 L351.2 322.5 L360 325 L375 322.5 L392.5 321.2 L410 317.5 L430 315 L450 313.8 L472.5 313.8 M472.5 235.5 L472.5 313.8 L475 316.2 L483.8 322.5 L481.2 332.5 L475 342.5 L468.8 352.5 L470 360 L474.2 362.5 L474.2 419.2 M492.5 235.5 L492.5 261.2 L500 272.5 L510 282.5 L520 292.5 L528.8 297.5 L528 306.2 L525 320 L531.2 326.2 L537.5 320 L543.8 330 L548.8 340 L555 347.5 L561.2 356.2 L575 352.5 L587.5 351.2 L593.8 347.5 L598.2 352.5 M321.5 420.1 L599 420.1 M599 340.8 L599 446.5 L788.1 446.5 L788.1 552.1 M599 340.8 L746.1 340.8 M746.1 235.2 L746.1 446.5 M746.1 316 L903.5 316 M746.1 393.7 L862.8 393.7 L862.5 392.5 L875 398.8 L890 397.5 L902.5 402.5 M788.1 472.9 L929 472.9 M641 446.5 L641 701.9 M536.1 420.1 L536.1 575.9 L530 578 L522.5 578 L522.5 593 L523.8 605 L533.8 623 L526.2 633 L521.2 648 L525 658 L520 666 M536.1 552.1 L944.3 552.1 M410.8 420.1 L410.8 499.3 L523.7 604.9 M768.2 552.1 L767.1 684.2 L692.1 684.2 M768.2 565.3 L831.2 565.3 L831.2 616.6 L840 619.2 L850 625.5 L862.5 629.2 L875 635.5 L890 638 L905 636.8 L917.5 635.5 L930 634.2 L940 640.5 L948.8 640.5 M904.5 380 L905.5 395 L904.5 402.5 L908.8 417.5 L912.5 430 L917.5 443 L925 460.5 L932.5 471.2 L938.8 476.8 L936.2 483 L942.5 491.8 L946.2 496 L946.2 564.8 L946.8 593 L948.8 640.5 L955 641.8 L955 657.2 L957.5 666 L958.8 666 L960 688.5 L965 703.5 L966.2 721 L962.5 741 M890.5 235.5 L893.8 257.5 L897.5 277.5 L901.2 295 L903.8 315.5 L903 322.5 L906.2 330 L907 380 M905.9 380.5 L1015.8 380.5 M1000 294.5 L997.5 302.5 L990 313.8 L982.5 320 L981.2 330 L985 340 L983.8 347.5 L990 352.5 L1000 360 L1007.5 367.5 L1013.8 377.5 L1015 385 L1020 392.5 L1018.8 400 L1025 406.2 L1035 417.5 L1037.5 425 L1032.5 432.5 L1022.5 437.5 L1020 443 L1018.8 453 L1011.2 460.5 L1010 470.5 L1015 480.5 L1022.5 490.5 L1027.5 499.2 L1035 503 L1037.5 511.8 L1033.8 518 L1040 525.5 L1048.8 531.8 L1053.8 543 L1057.5 550.5 L1053.8 561.8 L1048.8 570.5 L1046.2 578.5 L1042.5 590.5 L1038.8 599.2 L1040 604.2 L1035 608 L1030 618 L1025 628 L1018.8 638 L1016.2 648 L1018.8 658 L1017.5 666 L1022.5 666 L1017.5 681 L1011.2 696 L1008.8 711 L1048.8 711 L1050 728.5 M1025 406.2 L1087.5 406.2 M922.5 454.5 L1011.2 455 L1016.2 458 M946.2 564.8 L1035 564.8 L1033.8 578.5 L1046.2 578.5 M955 657.2 L1017.5 657.2 M1026.8 297.4 L1031.2 299.3 L1038.7 302.4 L1047.4 305.6 L1056.1 308.7 L1066.1 311.8 L1074.9 314.3 L1083.6 317.4 L1086.1 323.6 L1087.3 328.6 L1089.8 331.1 L1093 334.9 M1096.2 427 L1096.2 443 L1095 443 L1095 500.5 L1092.5 510.5 L1087.5 518 L1082.5 525.5 L1081.2 528.5 M1057.5 550.5 L1061.2 546.8 L1072.5 543 L1075 536.8 L1081.2 529.2 L1090 526.8 L1100 529.2 L1112.5 524.2 L1122.5 523 L1128.8 515.5 L1137.5 508 L1147.5 501.8 L1152.5 496.8 L1160 496.8 L1167.5 501.8 L1177.5 505.5 L1187.5 506.8 L1197.5 511.8 L1203.8 503 L1215 493 L1225 485.5 L1235 478 L1240 468 L1241.2 455.5 M1240.7 414.8 L1240.7 480.3 M1150.3 428 L1150.3 496.7 M1102.4 426.4 L1150.3 428 L1179.1 427.2 M1197.5 511.8 L1200 523 L1205 535.5 L1211.2 544.2 L1200 553 L1187.5 559.2 L1177.5 562.2 M1211.2 544.2 L1222.5 545.5 L1230 544.8 L1240 541.1 L1246.2 536.1 L1247.5 529.9 L1253.7 522.4 L1258.7 509.9 L1262.4 512.4 L1271.2 511.2 L1276.2 503.7 L1283.6 498.1 L1288.6 498.7 L1298 495 M1051.2 564.8 L1082.5 564.2 L1083.8 560.5 L1177.5 562.2 L1215 563.5 L1342.5 564.8 M1215 563.5 L1207.5 573 L1195 579.2 L1185 585.5 L1175 590.5 L1167.5 595.5 L1161.2 604.2 M1040 604.2 L1182.5 604.2 L1192.5 599.2 L1230 600.5 L1237.5 608 L1260 609.2 L1287.5 633 M1182.5 608 L1192.5 623 L1202.5 635.5 L1212.5 650.5 L1222.5 666 L1225 673.5 L1230 684.8 M1080 604.2 L1075 666 L1075 666 L1075.8 726 M1135 604.2 L1145 666 L1147.5 666 L1146.2 691 L1147.5 711 L1147.5 716 L1207.5 724.8 L1207.5 719.8 L1215 716 L1222.5 716 M1088.8 726 L1092.5 711 L1147.5 711 M1240.7 479.4 L1342.3 479.4 M1342.9 477.5 L1342.9 513.7 L1356 513.7 M1263.1 479.4 L1263.1 493.7 L1271.2 488.7 L1279.9 483.7 L1284.9 488.7 L1289.9 491.2 L1298 495 L1299.9 492.5 L1307.4 496.2 L1316.1 501.2 L1313.6 508.7 L1309.9 513.7 L1317.3 517.4 L1324.8 522.4 L1329.8 526.1 M1260 417.5 L1260 420 L1290 419.7 L1351.1 419.7 L1356.1 424.9 L1358 431.2 L1363.6 436.8 L1358 439.9 L1354.9 446.1 L1357.4 449.9 L1353.6 453.6 L1356.1 459.9 L1364.9 467.3 L1359.9 472.3 L1353.6 476.1 L1349.9 479.8 L1344.9 481.1 L1346 482.5 M1363.6 436.8 L1382.3 444.9 M1392.5 340.8 L1391.2 360 L1394.5 380 L1394.5 398.8 L1393.6 400 L1389.8 417.4 L1387.3 442.4 M1394.5 398.8 L1446.2 398.8 M1389.8 418.1 L1427.2 419.7 L1427.9 436.8 M1427.2 419.7 L1435.4 419.7 L1436.6 429.9 M1433.8 337.5 L1430 352.5 L1422.5 360 L1416.2 375 L1412.5 390 L1410 398.8 M1442.5 333.8 L1443.8 380 L1450 392.5" stroke-width="3" clip-path="url(#land)"/>
<path d="M352 238 L357 250 L350 261 L358 272 L353 284" stroke-width="9"/><path d="M359.5 524.2 L361.2 531.8 L365.5 538.5" stroke-width="8"/><path d="M1334.8 485 L1329.8 495 L1328.6 507.4 L1332.3 519.9 L1333.6 532.4 L1336.1 544.9 L1338.5 552.3" stroke-width="5"/><path d="M1317.3 517.4 L1324.8 522.4 L1329.8 526.1" stroke-width="4"/><path d="M1317.3 526.1 L1329.8 537.4" stroke-width="4"/><path d="M1319.8 537.4 L1331.1 546.1" stroke-width="4"/><path d="M1316.1 544.9 L1327.3 552.3 L1336.1 554.8" stroke-width="5"/><path d="M1452.2 428 L1459.7 429.9 L1465.3 428 L1465.9 422.4 L1462.8 418.1 L1459.1 417.4" stroke-width="4"/><path d="M1446 437.4 L1450.9 436.8" stroke-width="5"/><path d="M1460.3 438.4 L1464 437.6" stroke-width="5"/><path d="M1135.4 337.4 L1137.2 344.9" stroke-width="6"/><path d="M1042.5 728.5 L1050 734.8 L1045 738.5" stroke-width="4"/>
</g>
<text x="1571.5" y="415.6" class="lt">Relative pop. size</text>
<rect x="1571.2" y="429.6" width="24.7" height="26.5" fill="#4D4D4D" shape-rendering="crispEdges"/><text x="1607" y="449.3" class="ll" textLength="130" lengthAdjust="spacingAndGlyphs">excl.-severe</text><rect x="1571.2" y="455.1" width="24.7" height="26.5" fill="#1874CD" shape-rendering="crispEdges"/><text x="1607" y="474.8" class="ll" textLength="48" lengthAdjust="spacingAndGlyphs">0-10</text><rect x="1571.2" y="480.6" width="24.7" height="26.5" fill="#4B939F" shape-rendering="crispEdges"/><text x="1607" y="500.3" class="ll" textLength="62" lengthAdjust="spacingAndGlyphs">10-20</text><rect x="1571.2" y="506.1" width="24.7" height="26.5" fill="#7FB272" shape-rendering="crispEdges"/><text x="1607" y="525.8" class="ll" textLength="62" lengthAdjust="spacingAndGlyphs">20-30</text><rect x="1571.2" y="531.6" width="24.7" height="26.5" fill="#B2D144" shape-rendering="crispEdges"/><text x="1607" y="551.3" class="ll" textLength="62" lengthAdjust="spacingAndGlyphs">30-40</text><rect x="1571.2" y="557.1" width="24.7" height="26.5" fill="#E5F017" shape-rendering="crispEdges"/><text x="1607" y="576.8" class="ll" textLength="62" lengthAdjust="spacingAndGlyphs">40-50</text><rect x="1571.2" y="582.6" width="24.7" height="26.5" fill="#F9E300" shape-rendering="crispEdges"/><text x="1607" y="602.3" class="ll" textLength="62" lengthAdjust="spacingAndGlyphs">50-60</text><rect x="1571.2" y="608.1" width="24.7" height="26.5" fill="#EEAA00" shape-rendering="crispEdges"/><text x="1607" y="627.8" class="ll" textLength="62" lengthAdjust="spacingAndGlyphs">60-70</text><rect x="1571.2" y="633.6" width="24.7" height="26.5" fill="#E37100" shape-rendering="crispEdges"/><text x="1607" y="653.3" class="ll" textLength="62" lengthAdjust="spacingAndGlyphs">70-80</text><rect x="1571.2" y="659.1" width="24.7" height="26.5" fill="#D83900" shape-rendering="crispEdges"/><text x="1607" y="678.8" class="ll" textLength="62" lengthAdjust="spacingAndGlyphs">80-90</text><rect x="1571.2" y="684.6" width="24.7" height="25.5" fill="#CD0000" shape-rendering="crispEdges"/><text x="1607" y="704.3" class="ll" textLength="76" lengthAdjust="spacingAndGlyphs">90-100</text>
</svg>
</body></html>
